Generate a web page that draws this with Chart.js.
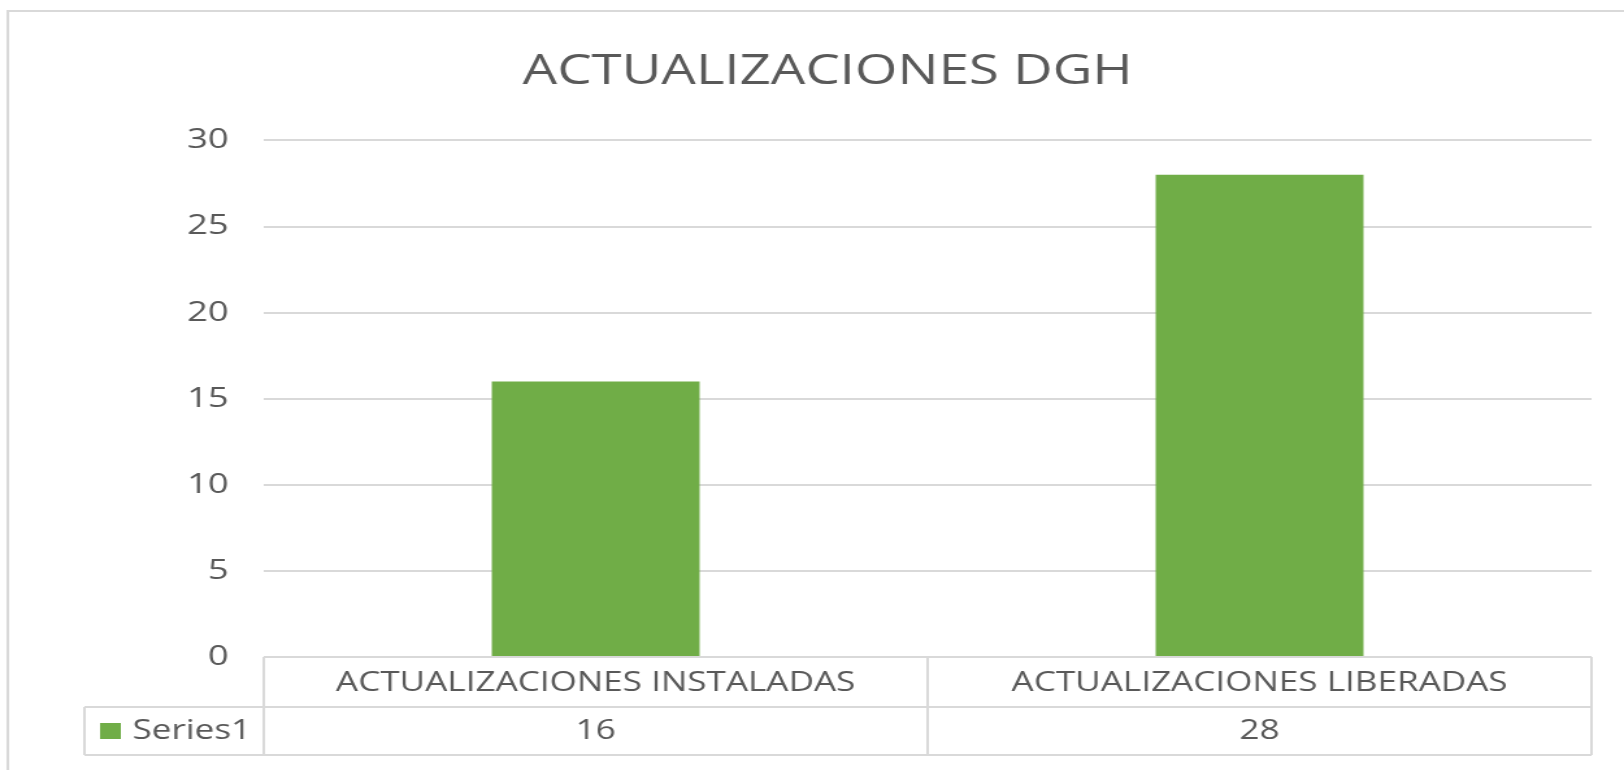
<!DOCTYPE html>
<html>
<head>
<meta charset="utf-8">
<script src="https://cdn.jsdelivr.net/npm/chart.js@4/dist/chart.umd.min.js"></script>
<style>
  html, body { margin: 0; padding: 0; background: #fff; overflow: hidden; }
</style>
</head>
<body>
<!-- the Excel picture is stretched sideways, so the canvas is drawn narrower and widened by css -->
<canvas id="chart" width="1250" height="770" style="width:1624px;height:770px"></canvas>
<script>
const chartTitle = 'ACTUALIZACIONES DGH';
const categories = ['ACTUALIZACIONES INSTALADAS', 'ACTUALIZACIONES LIBERADAS'];
const seriesName = 'Series1';
const series1 = [16, 28];
const yTicks = [0, 5, 10, 15, 20, 25, 30];

const GREEN = '#70AD47';
const GRID = '#d9d9d9';
const TEXT = '#595959';
const FONT = '"Open Sans", "DejaVu Sans", sans-serif';

// light frame round the whole chart
const framePlugin = {
  id: 'frame',
  beforeDraw(chart) {
    const ctx = chart.ctx;
    ctx.save();
    ctx.fillStyle = '#fff';
    ctx.fillRect(0, 0, chart.width, chart.height);
    ctx.strokeStyle = GRID;
    ctx.lineWidth = 2;
    ctx.strokeRect(6, 11, chart.width + 20, chart.height + 20);
    ctx.restore();
  }
};

// data table under the plot, cells placed on the x scale
const dataTablePlugin = {
  id: 'dataTable',
  afterDraw(chart) {
    const ctx = chart.ctx;
    const area = chart.chartArea;
    const x = chart.scales.x;
    const top = area.bottom;
    const mid = top + 50;
    const bottom = top + 98;
    const legendLeft = area.left - 138;

    ctx.save();
    ctx.strokeStyle = GRID;
    ctx.lineWidth = 2;
    ctx.beginPath();
    ctx.moveTo(legendLeft, mid); ctx.lineTo(area.right, mid);
    ctx.moveTo(legendLeft, bottom); ctx.lineTo(area.right, bottom);
    ctx.moveTo(legendLeft, mid); ctx.lineTo(legendLeft, bottom);
    ctx.moveTo(area.left, top); ctx.lineTo(area.left, bottom);
    categories.forEach((c, i) => {
      const edge = x.getPixelForValue(i + 0.5);
      ctx.moveTo(edge, top); ctx.lineTo(edge, bottom);
    });
    ctx.stroke();

    ctx.fillStyle = TEXT;
    ctx.font = '27px ' + FONT;
    ctx.textAlign = 'center';
    ctx.textBaseline = 'middle';
    categories.forEach((c, i) => {
      const cx = x.getPixelForValue(i);
      ctx.fillText(c, cx, top + 26);
      ctx.fillText(String(series1[i]), cx, mid + 24);
    });

    ctx.fillStyle = GREEN;
    ctx.fillRect(legendLeft + 12, mid + 16, 16, 16);
    ctx.fillStyle = TEXT;
    ctx.textAlign = 'left';
    ctx.fillText(seriesName, legendLeft + 37, mid + 24);
    ctx.restore();
  }
};

new Chart(document.getElementById('chart'), {
  type: 'bar',
  data: {
    labels: categories,
    datasets: [{
      label: seriesName,
      data: series1,
      backgroundColor: GREEN,
      borderWidth: 0,
      categoryPercentage: 1,
      barPercentage: 0.313
    }]
  },
  options: {
    responsive: false,
    animation: false,
    // left padding is wide so the title centres over the full Excel frame
    layout: { padding: { left: 49, right: 25, top: 0, bottom: 113 } },
    plugins: {
      legend: { display: false },
      tooltip: { enabled: false },
      title: {
        display: true,
        text: chartTitle,
        color: TEXT,
        font: { family: FONT, size: 42, weight: 'normal', lineHeight: 1.2 },
        padding: { top: 47, bottom: 43 }
      }
    },
    scales: {
      x: { display: false },
      y: {
        min: yTicks[0],
        max: yTicks[yTicks.length - 1],
        ticks: {
          stepSize: yTicks[1] - yTicks[0],
          color: TEXT,
          padding: 27,
          font: { family: FONT, size: 28 }
        },
        grid: { color: GRID, lineWidth: 2, drawTicks: false },
        border: { display: false },
        afterFit(scale) { scale.width = 154; }
      }
    }
  },
  plugins: [framePlugin, dataTablePlugin]
});
</script>
</body>
</html>
